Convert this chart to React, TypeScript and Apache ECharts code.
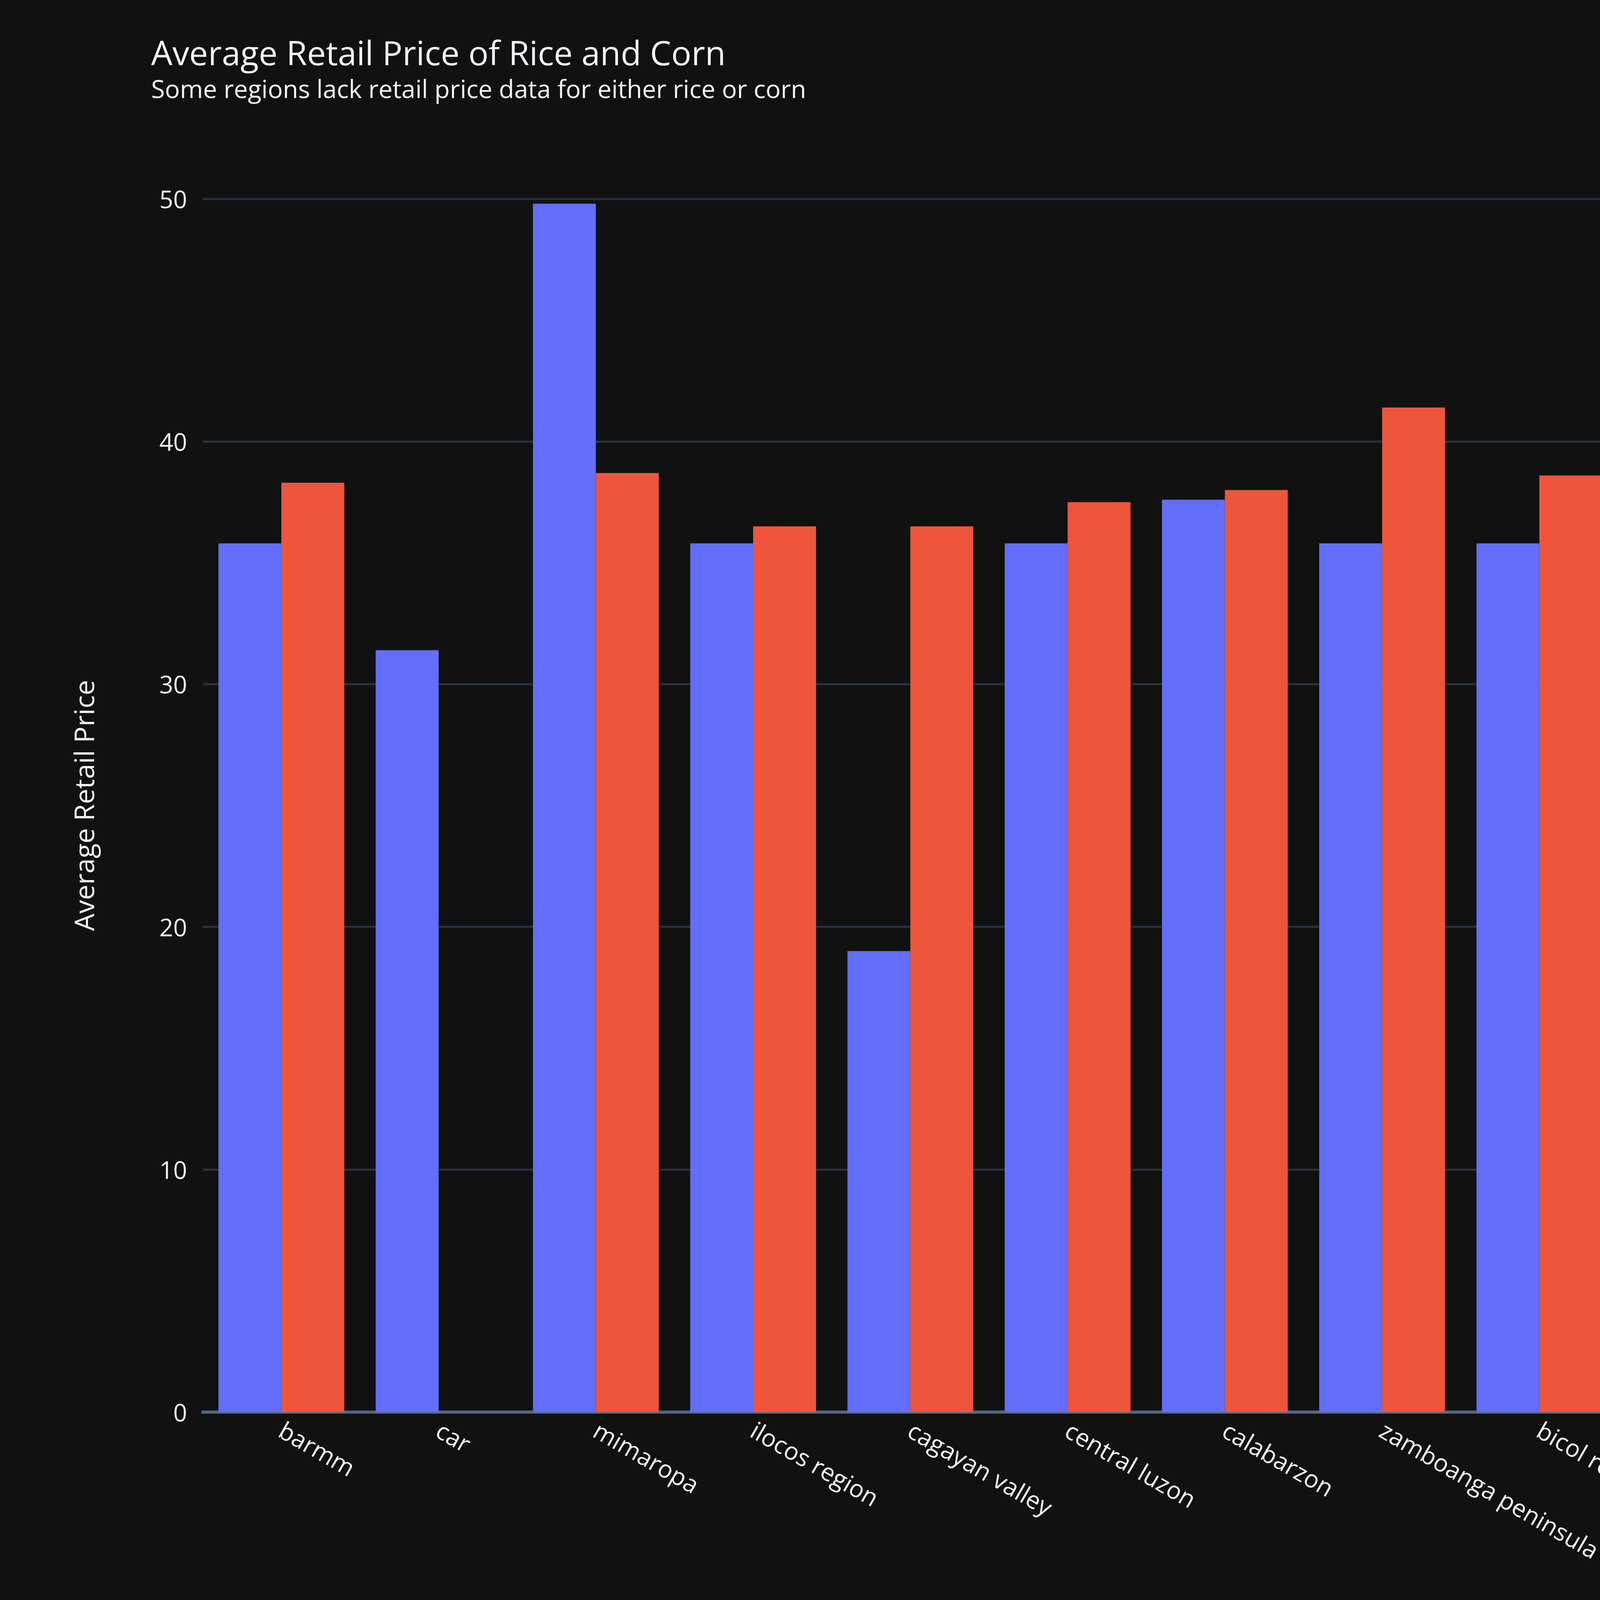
import React, { useEffect, useRef } from 'react';
import * as echarts from 'echarts';

const categories = [
  'barmm', 'car', 'mimaropa', 'ilocos region', 'cagayan valley', 'central luzon', 'calabarzon',
  'zamboanga peninsula', 'bicol region', 'western visayas', 'central visayas', 'eastern visayas',
  'northern mindanao', 'davao region', 'soccsksargen', 'caraga',
];
const cornValues = [35.8, 31.4, 49.8, 35.8, 19.0, 35.8, 37.6, 35.8, 35.8, 31.4, 35.8, 35.8, 18.3, 20.6, 35.8, 35.8];
const riceValues = [38.3, null, 38.7, 36.5, 36.5, 37.5, 38.0, 41.4, 38.6, 38.8, 42.6, 40.6, 40.8, 39.7, 38.5, null];

const FONT = '"Open Sans", "Noto Sans", sans-serif';
const TEXT = '#f2f5fa';

const App: React.FC = () => {
  const chartRef = useRef<HTMLDivElement>(null);

  useEffect(() => {
    if (!chartRef.current) return;
    const chart = echarts.init(chartRef.current, undefined, { renderer: 'svg' });
    chart.setOption({
      animation: false,
      backgroundColor: '#111111',
      textStyle: { fontFamily: FONT },
      title: {
        text: 'Average Retail Price of Rice and Corn',
        subtext: 'Some regions lack retail price data for either rice or corn',
        left: 382,
        top: 85,
        itemGap: 18,
        textStyle: { color: TEXT, fontSize: 86, fontWeight: 'normal', fontFamily: FONT },
        subtextStyle: { color: TEXT, fontSize: 64, fontFamily: FONT },
      },
      graphic: [{
        type: 'text', left: 7110, top: 395,
        style: { text: 'Commodity', fill: TEXT, fontSize: 70, fontFamily: FONT },
      }],
      legend: {
        orient: 'vertical',
        left: 7170,
        top: 520,
        itemWidth: 60,
        itemHeight: 60,
        itemGap: 55,
        icon: 'rect',
        textStyle: { color: TEXT, fontSize: 62, fontFamily: FONT, padding: [0, 0, 0, 20] },
        data: ['Corn', 'Rice'],
      },
      grid: { left: 519, right: 720, top: 509, bottom: 705 },
      xAxis: {
        type: 'category',
        data: categories,
        name: 'Geolocation',
        nameLocation: 'middle',
        nameGap: 600,
        nameTextStyle: { color: TEXT, fontSize: 70, fontFamily: FONT },
        axisLine: { show: true, lineStyle: { color: '#506784', width: 8 } },
        axisTick: { show: false },
        axisLabel: { color: TEXT, fontSize: 62, rotate: -30, margin: 40, interval: 0, fontFamily: FONT },
      },
      yAxis: {
        type: 'value',
        min: 0,
        max: 50,
        interval: 10,
        name: 'Average Retail Price',
        nameLocation: 'middle',
        nameGap: 270,
        nameTextStyle: { color: TEXT, fontSize: 70, fontFamily: FONT },
        axisLabel: { color: TEXT, fontSize: 62, margin: 40, fontFamily: FONT },
        splitLine: { lineStyle: { color: '#283442', width: 5 } },
        axisLine: { show: false },
      },
      series: [
        {
          name: 'Corn', type: 'bar', data: cornValues,
          itemStyle: { color: '#636efa' }, barGap: '0%', barCategoryGap: '20%',
        },
        {
          name: 'Rice', type: 'bar', data: riceValues,
          itemStyle: { color: '#EF553B' }, barGap: '0%', barCategoryGap: '20%',
        },
      ],
    });
    const onResize = () => chart.resize();
    window.addEventListener('resize', onResize);
    return () => {
      window.removeEventListener('resize', onResize);
      chart.dispose();
    };
  }, []);

  return <div ref={chartRef} style={{ position: 'absolute', left: 0, top: 0, width: 7680, height: 4320 }} />;
};

export default App;
